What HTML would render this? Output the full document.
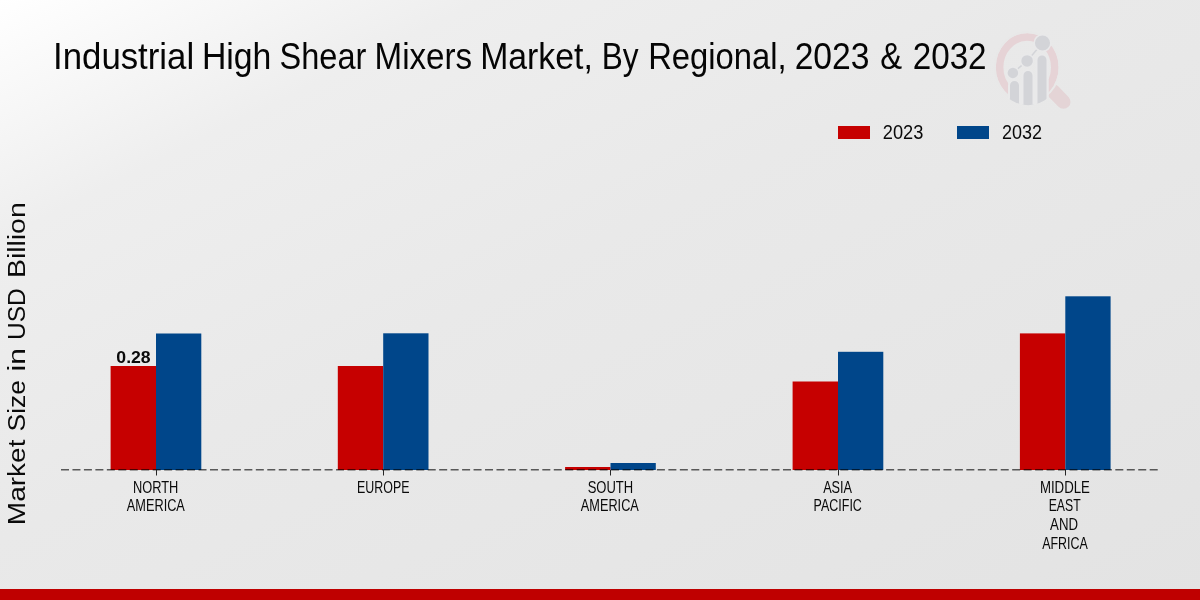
<!DOCTYPE html>
<html><head><meta charset="utf-8">
<style>
html,body{margin:0;padding:0;width:1200px;height:600px;overflow:hidden;}
body{background:linear-gradient(to bottom right,#ffffff 0%,#eeeeee 20%,#e9e9e9 45%,#e3e3e3 100%);}
svg{position:absolute;left:0;top:0;will-change:transform;}
text{font-family:"Liberation Sans",sans-serif;}
</style></head>
<body>
<svg width="1200" height="600" viewBox="0 0 1200 600">
  <!-- logo -->
  <defs><clipPath id="bc"><circle cx="1028" cy="74" r="31.2"/></clipPath></defs>
  <g>
    <path d="M1053.2,91.25 L1063.5,101.8" stroke="#e4d4d6" stroke-width="14" stroke-linecap="round" fill="none"/>
    <ellipse cx="1027.2" cy="67.3" rx="27.6" ry="30.3" fill="none" stroke="#e6d3d6" stroke-width="7.6"/>
    <ellipse cx="1027.2" cy="67.3" rx="32.4" ry="35.2" fill="none" stroke="#e8e8e8" stroke-width="2"/>
    <rect x="1008.5" y="80" width="40" height="30" fill="#e9e9e9" clip-path="url(#bc)"/>
    <g clip-path="url(#bc)" fill="#d3d4d8" stroke="#e9e9ea" stroke-width="2">
      <rect x="1009" y="80" width="11" height="40" rx="5.5"/>
      <rect x="1022.5" y="70" width="11" height="50" rx="5.5"/>
      <rect x="1036.5" y="54.5" width="11" height="65" rx="5.5"/>
    </g>
    <polyline points="1012.9,72.9 1027.1,60.9 1042.5,43" fill="none" stroke="#d3d4d8" stroke-width="1.5"/>
    <g fill="#d3d4d8" stroke="#e9e9ea" stroke-width="1.5">
      <circle cx="1012.9" cy="72.9" r="6"/>
      <circle cx="1027.1" cy="60.9" r="6.5"/>
      <circle cx="1042.5" cy="43" r="8.3"/>
    </g>
  </g>

  <!-- legend -->
  <rect x="838" y="126" width="32" height="13" fill="#c60000"/>
  <rect x="957" y="126" width="32" height="13" fill="#00468a"/>

  <!-- bars -->
  <g>
    <rect x="110.6" y="366.0" width="45.4" height="104.0" fill="#c60000"/>
    <rect x="156.0" y="333.5" width="45.3" height="136.5" fill="#00468a"/>
    <rect x="337.8" y="366.0" width="45.4" height="104.0" fill="#c60000"/>
    <rect x="383.2" y="333.3" width="45.3" height="136.7" fill="#00468a"/>
    <rect x="565.1" y="467.0" width="45.4" height="3.0" fill="#c60000"/>
    <rect x="610.5" y="463.0" width="45.3" height="7.0" fill="#00468a"/>
    <rect x="792.6" y="381.5" width="45.4" height="88.5" fill="#c60000"/>
    <rect x="838.0" y="351.8" width="45.3" height="118.2" fill="#00468a"/>
    <rect x="1019.9" y="333.4" width="45.4" height="136.6" fill="#c60000"/>
    <rect x="1065.3" y="296.3" width="45.3" height="173.7" fill="#00468a"/>
  </g>
  <!-- baseline dashed -->
  <line x1="61" y1="469.8" x2="1158.5" y2="469.8" stroke="rgba(0,0,0,0.62)" stroke-width="1.5" stroke-dasharray="8 3.46"/>
  <!-- ticks -->
  <g stroke="#262626" stroke-width="1">
    <line x1="156.5" y1="470" x2="156.5" y2="475.5"/>
    <line x1="383.5" y1="470" x2="383.5" y2="475.5"/>
    <line x1="610.5" y1="470" x2="610.5" y2="475.5"/>
    <line x1="838.5" y1="470" x2="838.5" y2="475.5"/>
    <line x1="1065.5" y1="470" x2="1065.5" y2="475.5"/>
  </g>

  <!-- texts -->
  <text x="53.08" y="69" font-size="36" font-weight="normal" fill="#050505" textLength="141.03" lengthAdjust="spacingAndGlyphs">Industrial</text>
  <text x="201.92" y="69" font-size="36" font-weight="normal" fill="#050505" textLength="69.52" lengthAdjust="spacingAndGlyphs">High</text>
  <text x="279.56" y="69" font-size="36" font-weight="normal" fill="#050505" textLength="86.81" lengthAdjust="spacingAndGlyphs">Shear</text>
  <text x="374.56" y="69" font-size="36" font-weight="normal" fill="#050505" textLength="97.61" lengthAdjust="spacingAndGlyphs">Mixers</text>
  <text x="480.13" y="69" font-size="36" font-weight="normal" fill="#050505" textLength="112.65" lengthAdjust="spacingAndGlyphs">Market,</text>
  <text x="601.80" y="69" font-size="36" font-weight="normal" fill="#050505" textLength="36.84" lengthAdjust="spacingAndGlyphs">By</text>
  <text x="648.21" y="69" font-size="36" font-weight="normal" fill="#050505" textLength="138.44" lengthAdjust="spacingAndGlyphs">Regional,</text>
  <text x="794.64" y="69" font-size="36" font-weight="normal" fill="#050505" textLength="74.95" lengthAdjust="spacingAndGlyphs">2023</text>
  <text x="880.36" y="69" font-size="36" font-weight="normal" fill="#050505" textLength="21.86" lengthAdjust="spacingAndGlyphs">&amp;</text>
  <text x="912.68" y="69" font-size="36" font-weight="normal" fill="#050505" textLength="73.92" lengthAdjust="spacingAndGlyphs">2032</text>
  <text x="882.83" y="139.0" font-size="20.5" font-weight="normal" fill="#0a0a0a" textLength="40.59" lengthAdjust="spacingAndGlyphs">2023</text>
  <text x="1002.05" y="139.0" font-size="20.5" font-weight="normal" fill="#0a0a0a" textLength="40.02" lengthAdjust="spacingAndGlyphs">2032</text>
  <text x="116.35" y="363.2" font-size="16" font-weight="bold" fill="#0a0a0a" textLength="34.32" lengthAdjust="spacingAndGlyphs">0.28</text>
  <text x="132.93" y="493" font-size="17" font-weight="normal" fill="#0a0a0a" textLength="45.42" lengthAdjust="spacingAndGlyphs">NORTH</text>
  <text x="126.86" y="511" font-size="17" font-weight="normal" fill="#0a0a0a" textLength="57.99" lengthAdjust="spacingAndGlyphs">AMERICA</text>
  <text x="357.02" y="493" font-size="17" font-weight="normal" fill="#0a0a0a" textLength="52.42" lengthAdjust="spacingAndGlyphs">EUROPE</text>
  <text x="587.63" y="493" font-size="17" font-weight="normal" fill="#0a0a0a" textLength="45.57" lengthAdjust="spacingAndGlyphs">SOUTH</text>
  <text x="580.84" y="511" font-size="17" font-weight="normal" fill="#0a0a0a" textLength="57.98" lengthAdjust="spacingAndGlyphs">AMERICA</text>
  <text x="823.16" y="493" font-size="17" font-weight="normal" fill="#0a0a0a" textLength="28.88" lengthAdjust="spacingAndGlyphs">ASIA</text>
  <text x="813.59" y="511" font-size="17" font-weight="normal" fill="#0a0a0a" textLength="48.30" lengthAdjust="spacingAndGlyphs">PACIFIC</text>
  <text x="1039.88" y="493" font-size="17" font-weight="normal" fill="#0a0a0a" textLength="50.08" lengthAdjust="spacingAndGlyphs">MIDDLE</text>
  <text x="1048.69" y="511" font-size="17" font-weight="normal" fill="#0a0a0a" textLength="31.95" lengthAdjust="spacingAndGlyphs">EAST</text>
  <text x="1050.10" y="530" font-size="17" font-weight="normal" fill="#0a0a0a" textLength="27.90" lengthAdjust="spacingAndGlyphs">AND</text>
  <text x="1042.20" y="549" font-size="17" font-weight="normal" fill="#0a0a0a" textLength="45.62" lengthAdjust="spacingAndGlyphs">AFRICA</text>
  <text transform="translate(24.8,525.16) rotate(-90)" x="0" y="0" font-size="23.0" fill="#0a0a0a" textLength="85.64" lengthAdjust="spacingAndGlyphs">Market</text>
  <text transform="translate(24.8,431.42) rotate(-90)" x="0" y="0" font-size="23.0" fill="#0a0a0a" textLength="51.33" lengthAdjust="spacingAndGlyphs">Size</text>
  <text transform="translate(24.8,371.47) rotate(-90)" x="0" y="0" font-size="23.0" fill="#0a0a0a" textLength="23.40" lengthAdjust="spacingAndGlyphs">in</text>
  <text transform="translate(24.8,339.91) rotate(-90)" x="0" y="0" font-size="23.0" fill="#0a0a0a" textLength="51.70" lengthAdjust="spacingAndGlyphs">USD</text>
  <text transform="translate(24.8,278.05) rotate(-90)" x="0" y="0" font-size="23.0" fill="#0a0a0a" textLength="75.73" lengthAdjust="spacingAndGlyphs">Billion</text>

  <!-- bottom strip -->
  <rect x="0" y="589" width="1200" height="11" fill="#bf0000"/>
</svg>
</body></html>
